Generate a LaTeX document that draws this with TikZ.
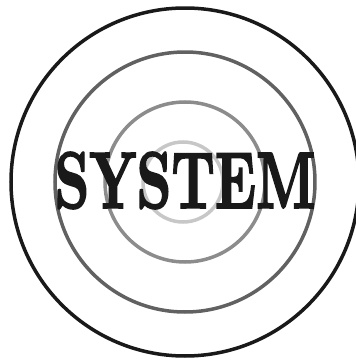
\documentclass[tikz,border=0pt]{standalone}
\usepackage{fontspec}
\usepackage{tikz}
\newfontfamily\fatface{lmroman10-bold}[Extension=.otf, FakeBold=2.5]

\begin{document}
\begin{tikzpicture}[x=1pt, y=1pt,
    ring/.style={line width=3.5pt},
    title/.style={font=\fontsize{80}{82}\fatface,
      inner sep=0pt, xscale=0.68, text=black!90}]
  \useasboundingbox (0,0) rectangle (356,360);
  \coordinate (c) at (185,178);
  % --- Rings, outside in ---
  \draw[ring, black!90] (c) circle (174);
  \draw[ring, black!62] (c) circle (130);
  \draw[ring, black!45] (c) circle (80);
  \draw[ring, black!22] (c) ++(-2,0) circle (40);
  % --- Label ---
  \node[title] (sys) at (185,179.5) {SYSTEM};
\end{tikzpicture}
\end{document}
